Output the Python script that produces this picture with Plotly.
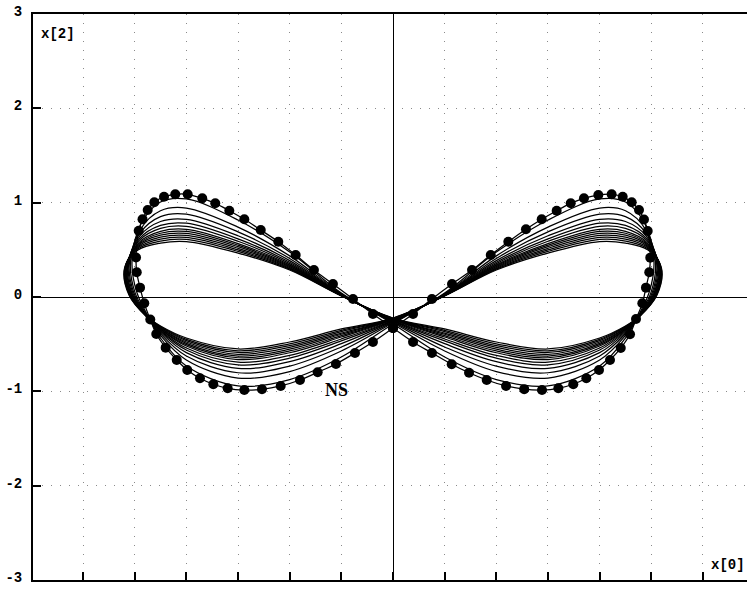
import plotly.graph_objects as go

# ---- labelled orbit (NS point): mesh points, traversed from the crossing point ----
NS_X = [0.000, 0.194, 0.377, 0.571, 0.765, 0.946, 1.116, 1.287, 1.439, 1.584,
        1.720, 1.848, 1.987, 2.116, 2.223, 2.310, 2.381, 2.429, 2.465, 2.490,
        2.480, 2.448, 2.413, 2.352, 2.294, 2.204, 2.100, 1.994, 1.871, 1.745,
        1.600, 1.442, 1.270, 1.094, 0.907, 0.736, 0.568, 0.377, 0.194,
        0.000, -0.194, -0.387, -0.581, -0.765, -0.942, -1.110, -1.280, -1.439, -1.584,
        -1.720, -1.846, -1.987, -2.107, -2.216, -2.310, -2.374, -2.424, -2.461, -2.487,
        -2.480, -2.448, -2.407, -2.349, -2.291, -2.200, -2.093, -1.991, -1.868, -1.739,
        -1.600, -1.439, -1.268, -1.087, -0.900, -0.729, -0.552, -0.368, -0.194, 0.000]
NS_Y = [-0.329, -0.180, -0.021, 0.138, 0.286, 0.445, 0.586, 0.718, 0.824, 0.915,
        0.993, 1.046, 1.081, 1.089, 1.063, 1.004, 0.922, 0.822, 0.700, 0.417,
        0.262, 0.099, -0.067, -0.233, -0.394, -0.541, -0.668, -0.774, -0.862, -0.925,
        -0.968, -0.986, -0.977, -0.943, -0.880, -0.803, -0.713, -0.594, -0.477,
        -0.329, -0.180, -0.021, 0.138, 0.286, 0.445, 0.586, 0.710, 0.824, 0.915,
        0.993, 1.046, 1.089, 1.089, 1.063, 1.004, 0.922, 0.825, 0.703, 0.419,
        0.262, 0.099, -0.067, -0.239, -0.392, -0.537, -0.668, -0.774, -0.862, -0.925,
        -0.968, -0.986, -0.978, -0.943, -0.880, -0.798, -0.710, -0.594, -0.477, -0.329]

# ---- the rest of the branch of periodic orbits ----
# x[0] stations of the upper / lower arcs of the right loop
ARC_X = [0.5, 1.0, 1.5, 2.0, 2.25]

# x[2] where each orbit passes through x[0] = 0
CROSS_Y = [-0.286, -0.273, -0.264, -0.256, -0.250, -0.246, -0.241,
           -0.238, -0.235, -0.232, -0.229, -0.226, -0.223]

# x[2] on the upper arc at ARC_X
UPPER_Y = [
    [0.042, 0.477, 0.816, 1.039, 1.007],
    [0.035, 0.436, 0.741, 0.943, 0.914],
    [0.031, 0.409, 0.691, 0.878, 0.852],
    [0.027, 0.386, 0.649, 0.824, 0.800],
    [0.024, 0.368, 0.616, 0.782, 0.759],
    [0.022, 0.354, 0.591, 0.749, 0.727],
    [0.020, 0.341, 0.566, 0.717, 0.696],
    [0.018, 0.331, 0.549, 0.695, 0.676],
    [0.017, 0.322, 0.533, 0.674, 0.655],
    [0.015, 0.313, 0.516, 0.653, 0.634],
    [0.014, 0.304, 0.499, 0.631, 0.613],
    [0.013, 0.295, 0.483, 0.610, 0.593],
    [0.011, 0.286, 0.466, 0.588, 0.572],
]

# turn-around at the outer end of the loop (upper corner, tip, lower side, lower corner)
TIP_X = [
    [2.439, 2.526, 2.477, 2.361],
    [2.445, 2.541, 2.494, 2.367],
    [2.449, 2.552, 2.505, 2.371],
    [2.453, 2.560, 2.514, 2.375],
    [2.456, 2.567, 2.522, 2.378],
    [2.458, 2.572, 2.527, 2.380],
    [2.460, 2.577, 2.533, 2.382],
    [2.461, 2.581, 2.536, 2.383],
    [2.463, 2.584, 2.540, 2.385],
    [2.464, 2.588, 2.544, 2.386],
    [2.465, 2.591, 2.548, 2.387],
    [2.467, 2.595, 2.551, 2.389],
    [2.468, 2.598, 2.555, 2.390],
]
TIP_Y = [
    [0.774, 0.371, 0.042, -0.223],
    [0.715, 0.357, 0.038, -0.218],
    [0.676, 0.348, 0.035, -0.215],
    [0.643, 0.341, 0.032, -0.213],
    [0.616, 0.334, 0.030, -0.210],
    [0.597, 0.330, 0.029, -0.209],
    [0.577, 0.325, 0.027, -0.207],
    [0.564, 0.322, 0.026, -0.206],
    [0.550, 0.319, 0.025, -0.205],
    [0.538, 0.316, 0.024, -0.204],
    [0.524, 0.313, 0.023, -0.203],
    [0.511, 0.310, 0.022, -0.202],
    [0.498, 0.307, 0.021, -0.201],
]

# x[2] on the lower arc, walking back from ARC_X[-1] to ARC_X[0]
LOWER_Y = [
    [-0.435, -0.731, -0.943, -0.875, -0.636],
    [-0.408, -0.668, -0.859, -0.790, -0.572],
    [-0.389, -0.625, -0.803, -0.733, -0.530],
    [-0.374, -0.590, -0.756, -0.686, -0.495],
    [-0.362, -0.562, -0.719, -0.648, -0.466],
    [-0.353, -0.541, -0.691, -0.619, -0.445],
    [-0.344, -0.520, -0.663, -0.591, -0.424],
    [-0.338, -0.505, -0.644, -0.572, -0.410],
    [-0.331, -0.491, -0.626, -0.553, -0.395],
    [-0.325, -0.477, -0.607, -0.534, -0.382],
    [-0.319, -0.463, -0.588, -0.515, -0.367],
    [-0.313, -0.449, -0.570, -0.496, -0.353],
    [-0.307, -0.435, -0.551, -0.477, -0.339],
]

Y_TICKS = [-3, -2, -1, 0, 1, 2, 3]


def full_orbit(cy, up, tx, ty, lo):
    """Right loop from the stored stations; the left loop is its x[0] -> -x[0] image."""
    rx = [0.0] + ARC_X + tx + ARC_X[::-1]
    ry = [cy] + up + ty + lo
    xs = rx + [-v for v in rx] + [0.0]
    ys = ry + ry + [cy]
    return xs, ys


fig = go.Figure()

for cy, up, tx, ty, lo in zip(CROSS_Y, UPPER_Y, TIP_X, TIP_Y, LOWER_Y):
    xs, ys = full_orbit(cy, up, tx, ty, lo)
    fig.add_trace(go.Scatter(
        x=xs, y=ys, mode="lines",
        line=dict(color="black", width=1.25, shape="spline", smoothing=1.0),
        hoverinfo="skip", showlegend=False,
    ))

fig.add_trace(go.Scatter(
    x=NS_X, y=NS_Y, mode="lines+markers",
    line=dict(color="black", width=1.25, shape="spline", smoothing=1.0),
    marker=dict(color="black", size=10),
    showlegend=False,
))

label_font = dict(family="Liberation Mono", size=14, color="black", weight="bold")

fig.add_annotation(x=-0.542, y=-0.991, text="NS", showarrow=False,
                   font=dict(family="Liberation Serif", size=18, color="black", weight="bold"))
fig.add_annotation(xref="paper", yref="paper", x=0.0, y=1.0, xshift=6, yshift=-10,
                   xanchor="left", yanchor="top", text="x[2]", showarrow=False,
                   font=label_font)
fig.add_annotation(xref="paper", yref="paper", x=1.0, y=0.0, xshift=0, yshift=5,
                   xanchor="right", yanchor="bottom", text="x[0]", showarrow=False,
                   font=label_font)

fig.update_xaxes(
    range=[-3.484, 3.426], dtick=0.5, tick0=0,
    showticklabels=False, ticks="inside", ticklen=8, tickwidth=1.5, tickcolor="black",
    showgrid=True, gridcolor="#8a8a8a", gridwidth=1, griddash="1px,8px",
    zeroline=True, zerolinecolor="black", zerolinewidth=1.2,
    showline=True, linecolor="black", linewidth=2, mirror=True,
)
fig.update_yaxes(
    range=[-3, 3], tickvals=Y_TICKS, ticktext=[str(v) for v in Y_TICKS],
    ticks="inside", ticklen=8, tickwidth=1.5, tickcolor="black",
    tickfont=label_font, ticklabelshift=-3, ticklabelstandoff=6,
    showgrid=True, gridcolor="#8a8a8a", gridwidth=1, griddash="1px,8px",
    zeroline=True, zerolinecolor="black", zerolinewidth=1.2,
    showline=True, linecolor="black", linewidth=2, mirror=False,
)

fig.update_layout(
    width=747, height=590,
    margin=dict(l=33, r=0, t=14, b=10),
    paper_bgcolor="white", plot_bgcolor="white",
    showlegend=False,
)

fig.write_html("out.html")
